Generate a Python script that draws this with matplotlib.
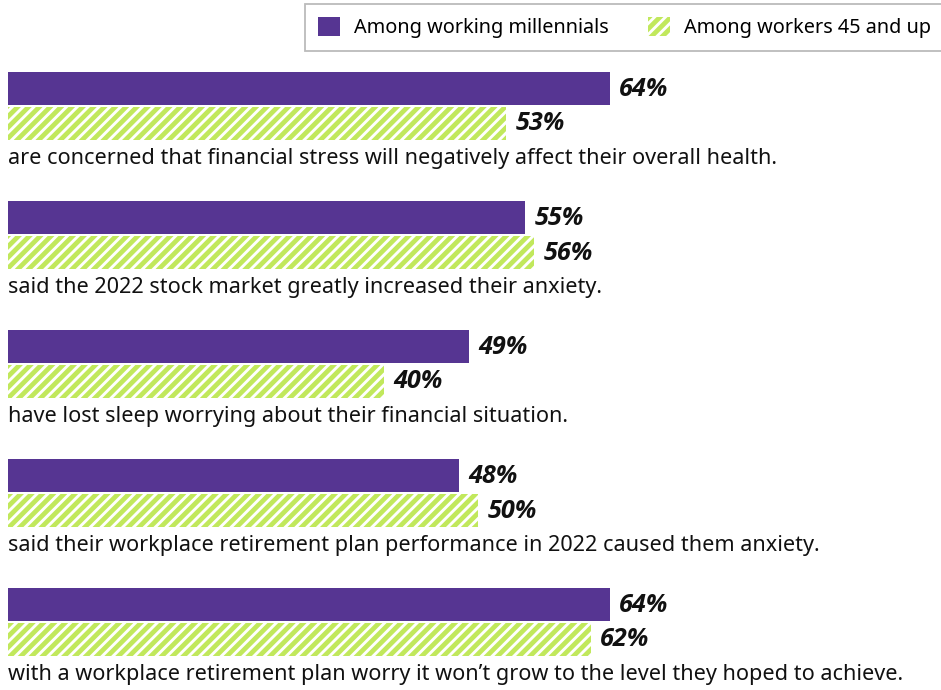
import matplotlib
matplotlib.use('Agg')
import matplotlib.pyplot as plt
from matplotlib.patches import Patch
import numpy as np

statements = [
    'are concerned that financial stress will negatively affect their overall health.',
    'said the 2022 stock market greatly increased their anxiety.',
    'have lost sleep worrying about their financial situation.',
    'said their workplace retirement plan performance in 2022 caused them anxiety.',
    'with a workplace retirement plan worry it won\u2019t grow to the level they hoped to achieve.',
]
millennials = [64, 55, 49, 48, 64]
workers45 = [53, 56, 40, 50, 62]
series_names = ['Among working millennials', 'Among workers 45 and up']

purple = '#563592'
lime = '#c1e85c'

plt.rcParams['font.family'] = ['Noto Sans', 'DejaVu Sans']
plt.rcParams['hatch.linewidth'] = 1.6
plt.rcParams['hatch.color'] = 'white'

dpi = 130
fig = plt.figure(figsize=(941 / dpi, 690 / dpi), dpi=dpi)
ax = fig.add_axes([0, 0, 1, 1])

# pixel-like layout: x in percent, y in rows
px_per_pct = 9.4
ax.set_xlim(-8 / px_per_pct, 933 / px_per_pct)
ax.set_ylim(690, 0)
ax.axis('off')

step = 129
ypos = 88.5 + step * np.arange(len(statements))
h = 33

ax.barh(ypos, millennials, height=h, color=purple, linewidth=0)
ax.barh(ypos + 34.5, workers45, height=h, color=lime, edgecolor='white',
        linewidth=0, hatch='////')

pct_font = dict(family=['Open Sans', 'DejaVu Sans'], fontsize=14,
                fontweight='bold', fontstyle='italic', color='#111111')
for y, v in zip(ypos, millennials):
    ax.text(v + 1, y + 1, '%d%%' % v, va='center', ha='left', **pct_font)
for y, v in zip(ypos + 34.5, workers45):
    ax.text(v + 1, y + 1, '%d%%' % v, va='center', ha='left', **pct_font)
for y, s in zip(ypos + 70, statements):
    ax.text(0, y, s, va='center', ha='left', fontsize=12, color='#111111')

handles = [Patch(facecolor=purple, linewidth=0),
           Patch(facecolor=lime, edgecolor='white', linewidth=0, hatch='////')]
leg = fig.legend(handles, series_names, loc='upper right',
                 bbox_to_anchor=(1.003, 1 - 4 / 690), ncol=2, fontsize=11,
                 frameon=True, fancybox=False, edgecolor='#aaaaaa',
                 handlelength=1.1, handleheight=1.1, columnspacing=2.0,
                 handletextpad=0.7, borderpad=0.65, borderaxespad=0)
leg.get_frame().set_linewidth(1)

fig.savefig('out.png', dpi=dpi)
